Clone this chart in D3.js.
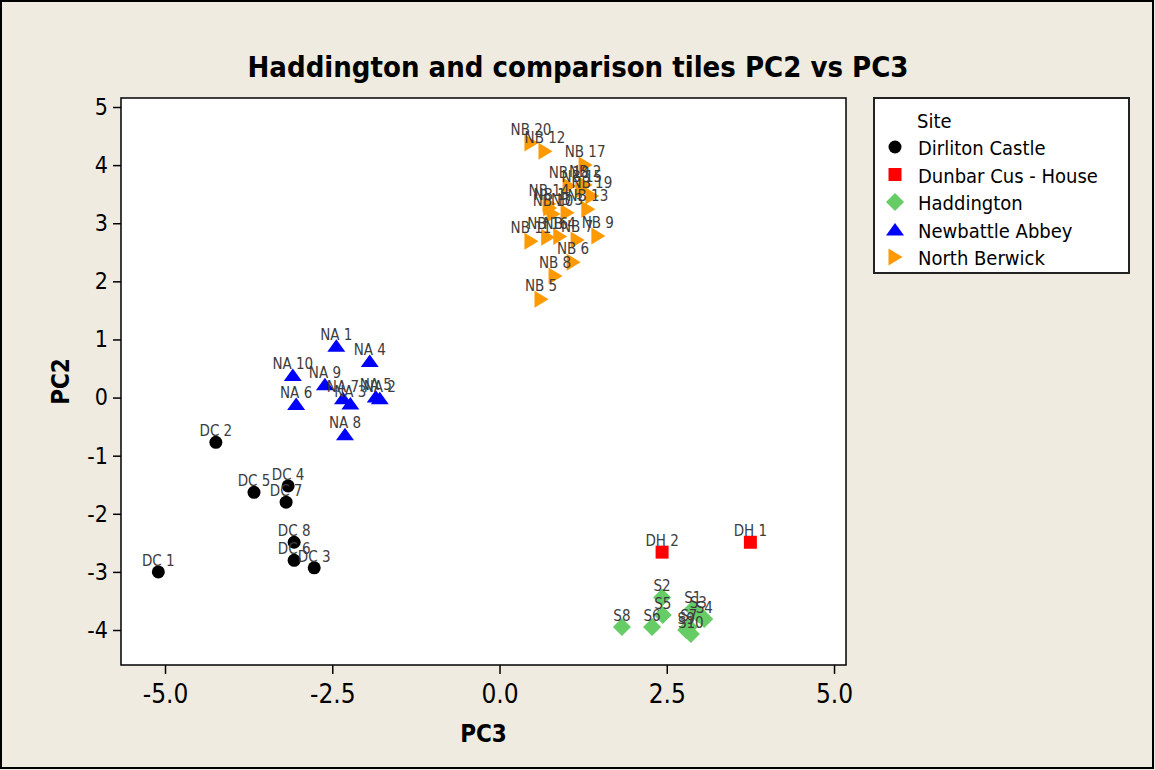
<!DOCTYPE html>
<html>
<head>
<meta charset="utf-8">
<script src="https://cdn.jsdelivr.net/npm/d3@7/dist/d3.min.js"></script>
<style>
  html, body { margin: 0; padding: 0; background: #efebe1; }
  svg { display: block; }
</style>
</head>
<body>
<svg id="chart" width="1155" height="770"></svg>
<script>
// ---------------- DATA ----------------
const siteNames = ["Dirliton Castle", "Dunbar Cus - House", "Haddington", "Newbattle Abbey", "North Berwick"];
const siteColors = ["#000000", "#ff0000", "#66cc66", "#0000ff", "#ff9900"];

const dcLabels = ["DC 1", "DC 2", "DC 3", "DC 4", "DC 5", "DC 6", "DC 7", "DC 8"];
const dcPC3 = [-5.10, -4.24, -2.77, -3.16, -3.67, -3.07, -3.19, -3.07];
const dcPC2 = [-3.00, -0.77, -2.93, -1.52, -1.63, -2.80, -1.80, -2.49];

const dhLabels = ["DH 1", "DH 2"];
const dhPC3 = [3.75, 2.43];
const dhPC2 = [-2.49, -2.66];

const sLabels = ["S1", "S2", "S3", "S4", "S5", "S6", "S7", "S8", "S9", "S10"];
const sPC3 = [2.89, 2.43, 2.97, 3.06, 2.44, 2.28, 2.83, 1.83, 2.79, 2.86];
const sPC2 = [-3.64, -3.44, -3.73, -3.81, -3.74, -3.95, -3.95, -3.95, -4.00, -4.07];

const naLabels = ["NA 1", "NA 2", "NA 3", "NA 4", "NA 5", "NA 6", "NA 7", "NA 8", "NA 9", "NA 10"];
const naPC3 = [-2.44, -1.79, -2.23, -1.94, -1.85, -3.04, -2.34, -2.31, -2.61, -3.09];
const naPC2 = [0.89, -0.01, -0.10, 0.63, 0.02, -0.11, -0.01, -0.63, 0.23, 0.39];

const nbLabels = ["NB 1", "NB 2", "NB 3", "NB 4", "NB 5", "NB 6", "NB 7", "NB 8", "NB 9", "NB 10",
                  "NB 11", "NB 12", "NB 13", "NB 14", "NB 15", "NB 16", "NB 17", "NB 18", "NB 19", "NB 20"];
const nbPC3 = [0.75, 1.28, 1.01, 0.90, 0.62, 1.10, 1.16, 0.83, 1.47, 0.80,
               0.47, 0.68, 1.32, 0.74, 1.23, 0.72, 1.28, 1.04, 1.38, 0.47];
const nbPC2 = [3.26, 3.66, 3.18, 2.77, 1.69, 2.33, 2.71, 2.09, 2.78, 3.16,
               2.69, 4.24, 3.24, 3.33, 3.57, 2.76, 4.00, 3.64, 3.47, 4.38];

const xTicks = [-5.0, -2.5, 0.0, 2.5, 5.0];
const yTicks = [-4, -3, -2, -1, 0, 1, 2, 3, 4, 5];

const titleText = "Haddington and comparison tiles PC2 vs PC3";
const xTitle = "PC3";
const yTitle = "PC2";
const legendTitle = "Site";

// ---------------- BUILD ----------------
const groups = [
  { labels: dcLabels, xs: dcPC3, ys: dcPC2, shape: "circle" },
  { labels: dhLabels, xs: dhPC3, ys: dhPC2, shape: "square" },
  { labels: sLabels, xs: sPC3, ys: sPC2, shape: "diamond" },
  { labels: naLabels, xs: naPC3, ys: naPC2, shape: "triUp" },
  { labels: nbLabels, xs: nbPC3, ys: nbPC2, shape: "triRight" }
];
const points = [];
groups.forEach((g, gi) => g.labels.forEach((lab, i) => points.push({
  label: lab, x: g.xs[i], y: g.ys[i], site: gi, shape: g.shape
})));

const svg = d3.select("#chart");
const W = 1155, H = 770;
const plot = { left: 121, right: 846, top: 98, bottom: 665 };

const x = d3.scaleLinear().domain([-5.658, 5.179]).range([plot.left, plot.right]);
const y = d3.scaleLinear().domain([-4.602, 5.155]).range([plot.bottom, plot.top]);

const shapePath = {
  circle: () => d3.symbol().type(d3.symbolCircle).size(Math.PI * 6.5 * 6.5)(),
  square: () => "M-6.5,-6.5H6.5V6.5H-6.5Z",
  diamond: () => "M0,-9L9,0L0,9L-9,0Z",
  triUp: () => "M0,-6.5L9,6L-9,6Z",
  triRight: () => "M-6.5,-8.5L7.5,0L-6.5,8.5Z"
};

// background & outer border
svg.append("rect").attr("x", 0).attr("y", 0).attr("width", W).attr("height", H).attr("fill", "#efebe1");
svg.append("rect").attr("x", 1).attr("y", 1).attr("width", W - 3).attr("height", H - 3)
  .attr("fill", "none").attr("stroke", "#000").attr("stroke-width", 2);

// title
svg.append("text").attr("x", 578).attr("y", 77).attr("text-anchor", "middle")
  .attr("font-family", "'DejaVu Sans Condensed', 'DejaVu Sans', sans-serif")
  .attr("font-weight", "bold").attr("font-size", 29).attr("fill", "#000")
  .text(titleText);

// plot area
svg.append("rect").attr("x", plot.left).attr("y", plot.top)
  .attr("width", plot.right - plot.left).attr("height", plot.bottom - plot.top)
  .attr("fill", "#ffffff");

// axes
const xAxis = svg.append("g").attr("transform", `translate(0,${plot.bottom})`)
  .call(d3.axisBottom(x).tickValues(xTicks).tickFormat(d => d.toFixed(1)).tickSize(9).tickPadding(24));
const yAxis = svg.append("g").attr("transform", `translate(${plot.left},0)`)
  .call(d3.axisLeft(y).tickValues(yTicks).tickFormat(d => String(d)).tickSize(8).tickPadding(5));
[xAxis, yAxis].forEach(a => {
  a.select(".domain").remove();
  a.selectAll(".tick line").attr("stroke", "#000").attr("stroke-width", 1.5);
  a.selectAll(".tick text").attr("fill", "#000")
    .attr("font-family", "'Liberation Sans Narrow', 'DejaVu Sans Condensed', sans-serif");
});
xAxis.selectAll(".tick text").attr("font-size", 26).attr("dy", "0.2em");
yAxis.selectAll(".tick text").attr("font-size", 23)
  .attr("font-family", "'DejaVu Sans Condensed', 'DejaVu Sans', sans-serif");

// frame
svg.append("rect").attr("x", plot.left).attr("y", plot.top)
  .attr("width", plot.right - plot.left).attr("height", plot.bottom - plot.top)
  .attr("fill", "none").attr("stroke", "#000").attr("stroke-width", 1.5);

// axis titles
svg.append("text").attr("x", (plot.left + plot.right) / 2).attr("y", 742).attr("text-anchor", "middle")
  .attr("font-family", "'DejaVu Sans Condensed', 'DejaVu Sans', sans-serif").attr("font-weight", "bold")
  .attr("font-size", 24).text(xTitle);
svg.append("text").attr("transform", `translate(69,${(plot.top + plot.bottom) / 2}) rotate(-90)`)
  .attr("text-anchor", "middle")
  .attr("font-family", "'DejaVu Sans Condensed', 'DejaVu Sans', sans-serif").attr("font-weight", "bold")
  .attr("font-size", 24).text(yTitle);

// markers
const mk = svg.append("g");
mk.selectAll("path").data(points).enter().append("path")
  .attr("d", d => shapePath[d.shape]())
  .attr("transform", d => `translate(${x(d.x)},${y(d.y)})`)
  .attr("fill", d => siteColors[d.site]);

// point labels
const lb = svg.append("g");
lb.selectAll("text").data(points).enter().append("text")
  .attr("x", d => x(d.x)).attr("y", d => y(d.y) - (d.shape === "triRight" ? 8 : 6))
  .attr("text-anchor", "middle")
  .attr("font-family", "'Liberation Sans Narrow', 'DejaVu Sans Condensed', sans-serif")
  .attr("font-size", 15).attr("fill", "#3c3c3c")
  .text(d => d.label);

// legend
const lg = svg.append("g");
lg.append("rect").attr("x", 874).attr("y", 98).attr("width", 255).attr("height", 175)
  .attr("fill", "#fff").attr("stroke", "#222").attr("stroke-width", 2);
lg.append("text").attr("x", 917).attr("y", 128)
  .attr("font-family", "'DejaVu Sans Condensed', 'DejaVu Sans', sans-serif").attr("font-size", 20)
  .text(legendTitle);
const legShapes = ["circle", "square", "diamond", "triUp", "triRight"];
siteNames.forEach((nm, i) => {
  const by = 155 + i * 27.5;
  lg.append("path").attr("d", shapePath[legShapes[i]]())
    .attr("transform", `translate(895,${by - 8})`).attr("fill", siteColors[i]);
  lg.append("text").attr("x", 918).attr("y", by)
    .attr("font-family", "'DejaVu Sans Condensed', 'DejaVu Sans', sans-serif").attr("font-size", 20)
    .text(nm);
});
</script>
</body>
</html>
